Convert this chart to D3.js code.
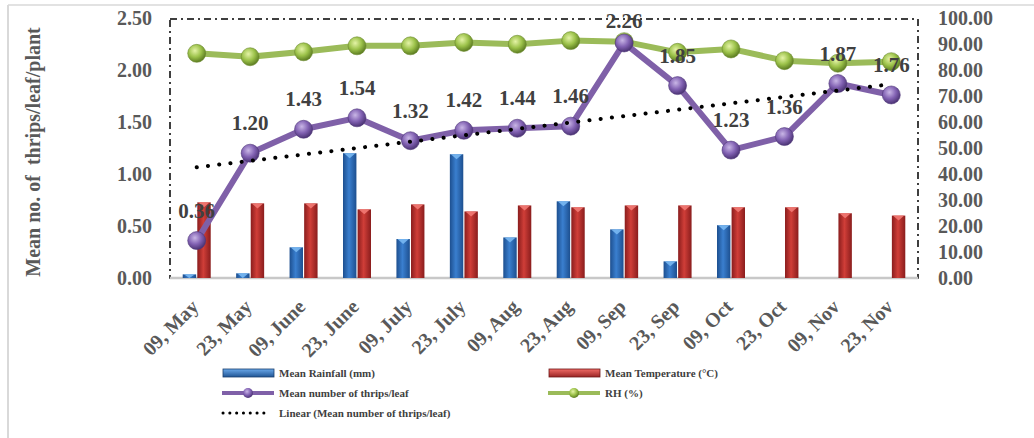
<!DOCTYPE html>
<html>
<head>
<meta charset="utf-8">
<script src="https://cdn.jsdelivr.net/npm/d3@7"></script>
<style>
  html, body { margin: 0; padding: 0; background: #fff; }
  svg { display: block; font-family: "Liberation Serif", "Times New Roman", serif; }
</style>
</head>
<body>
<svg id="chart" width="1034" height="438"></svg>
<script>
// Sampling dates
const categories = ["09, May", "23, May", "09, June", "23, June", "09, July", "23, July", "09, Aug",
                    "23, Aug", "09, Sep", "23, Sep", "09, Oct", "23, Oct", "09, Nov", "23, Nov"];
// Mean number of thrips per leaf (left axis)
const thrips = [0.36, 1.20, 1.43, 1.54, 1.32, 1.42, 1.44, 1.46, 2.26, 1.85, 1.23, 1.36, 1.87, 1.76];
// Weather (right axis)
const rainfall = [1.4, 1.8, 11.8, 48.0, 15.0, 47.6, 15.6, 29.5, 18.7, 6.4, 20.3, 0, 0, 0];
const temperature = [29.1, 28.7, 28.7, 26.4, 28.3, 25.6, 27.9, 27.2, 27.9, 27.9, 27.2, 27.2, 24.9, 24.0];
const humidity = [86.4, 85.1, 87.0, 89.3, 89.3, 90.6, 89.9, 91.3, 90.9, 86.8, 88.1, 83.6, 82.6, 83.2];
// Axis ticks
const leftTicks = [0, 0.5, 1.0, 1.5, 2.0, 2.5];
const rightTicks = [0, 10, 20, 30, 40, 50, 60, 70, 80, 90, 100];

const svg = d3.select("#chart");
const plot = { left: 170, right: 918, top: 18, bottom: 278 };

const x = d3.scaleBand().domain(categories).range([plot.left, plot.right]).padding(0);
const cx = d => x(d) + x.bandwidth() / 2;
const yL = d3.scaleLinear().domain([0, 2.5]).range([plot.bottom, plot.top]);
const yR = d3.scaleLinear().domain([0, 100]).range([plot.bottom, plot.top]);
const sub = d3.scaleBand().domain(["rain", "temp"]).range([-14, 14]).paddingInner(0.08);

// Gradients
const defs = svg.append("defs");
function cylinder(id, edge, mid) {
  const g = defs.append("linearGradient").attr("id", id).attr("x1", 0).attr("x2", 1).attr("y1", 0).attr("y2", 0);
  g.append("stop").attr("offset", "0%").attr("stop-color", edge);
  g.append("stop").attr("offset", "45%").attr("stop-color", mid);
  g.append("stop").attr("offset", "100%").attr("stop-color", edge);
}
cylinder("gBlue", "#1d4f8f", "#3a7fcf");
cylinder("gRed", "#8a1d1d", "#d03e38");
function swatch(id, top, bottom) {
  const g = defs.append("linearGradient").attr("id", id).attr("x1", 0).attr("x2", 0).attr("y1", 0).attr("y2", 1);
  g.append("stop").attr("offset", "0%").attr("stop-color", top);
  g.append("stop").attr("offset", "100%").attr("stop-color", bottom);
}
swatch("sBlue", "#6aa8ea", "#1f5494");
swatch("sRed", "#f06b66", "#9a2424");
function sphere(id, light, base, dark) {
  const g = defs.append("radialGradient").attr("id", id).attr("cx", "40%").attr("cy", "35%").attr("r", "65%");
  g.append("stop").attr("offset", "0%").attr("stop-color", light);
  g.append("stop").attr("offset", "55%").attr("stop-color", base);
  g.append("stop").attr("offset", "100%").attr("stop-color", dark);
}
sphere("ballPurple", "#c9b6e6", "#8262b3", "#4c3475");
sphere("ballGreen", "#e4f3a6", "#9cc24a", "#5d7d22");

// Outer frame lines
svg.append("line").attr("x1", 8).attr("x2", 1034).attr("y1", 5).attr("y2", 5)
  .attr("stroke", "#d9d9d9").attr("stroke-width", 1.5);
svg.append("line").attr("x1", 8).attr("x2", 8).attr("y1", 5).attr("y2", 438)
  .attr("stroke", "#d9d9d9").attr("stroke-width", 2);

// Plot-area border
svg.append("rect").attr("x", plot.left).attr("y", plot.top + 1)
  .attr("width", plot.right - plot.left).attr("height", plot.bottom - plot.top - 1)
  .attr("fill", "none").attr("stroke", "#000").attr("stroke-width", 1.5)
  .attr("stroke-dasharray", "7 4 2 4");

// Category axis line
svg.append("line").attr("x1", plot.left).attr("x2", plot.right).attr("y1", plot.bottom).attr("y2", plot.bottom)
  .attr("stroke", "#c8c8c8").attr("stroke-width", 2.5);

// Bars
function drawBars(values, key, fill, cap) {
  const g = svg.append("g");
  const w = sub.bandwidth();
  const data = values.map((v, i) => ({ c: categories[i], v }));
  g.selectAll("rect").data(data.filter(d => d.v > 0)).join("rect")
    .attr("x", d => cx(d.c) + sub(key)).attr("y", d => yR(d.v))
    .attr("width", w).attr("height", d => yR(0) - yR(d.v))
    .attr("fill", fill);
  g.selectAll("path").data(data.filter(d => d.v > 0)).join("path")
    .attr("d", d => {
      const x0 = cx(d.c) + sub(key), y0 = yR(d.v);
      const h = Math.min(5, yR(0) - y0);
      return `M${x0 + 1},${y0}L${x0 + w - 1},${y0}L${x0 + w / 2},${y0 + h}Z`;
    })
    .attr("fill", cap).attr("opacity", 0.9);
}
drawBars(rainfall, "rain", "url(#gBlue)", "#79b8f2");
drawBars(temperature, "temp", "url(#gRed)", "#f27a74");

// RH line
svg.append("path").datum(humidity)
  .attr("d", d3.line().x((d, i) => cx(categories[i])).y(d => yR(d)))
  .attr("fill", "none").attr("stroke", "#9bbb59").attr("stroke-width", 6).attr("stroke-linejoin", "round");
svg.append("g").selectAll("circle").data(humidity).join("circle")
  .attr("cx", (d, i) => cx(categories[i])).attr("cy", d => yR(d)).attr("r", 9)
  .attr("fill", "url(#ballGreen)").attr("stroke", "#6b8a2e").attr("stroke-width", 0.6);

// Thrips line
svg.append("path").datum(thrips)
  .attr("d", d3.line().x((d, i) => cx(categories[i])).y(d => yL(d)))
  .attr("fill", "none").attr("stroke", "#7f60a8").attr("stroke-width", 6).attr("stroke-linejoin", "round");
svg.append("g").selectAll("circle").data(thrips).join("circle")
  .attr("cx", (d, i) => cx(categories[i])).attr("cy", d => yL(d)).attr("r", 9)
  .attr("fill", "url(#ballPurple)").attr("stroke", "#4f3778").attr("stroke-width", 0.6);

// Linear trend of thrips (least squares)
const n = thrips.length;
const xs = thrips.map((d, i) => i + 1);
const mx = d3.mean(xs), my = d3.mean(thrips);
const slope = d3.sum(xs, (xv, i) => (xv - mx) * (thrips[i] - my)) / d3.sum(xs, xv => (xv - mx) ** 2);
const icpt = my - slope * mx;
const trend = [1, n].map(k => ({ c: categories[k - 1], v: icpt + slope * k }));
svg.append("path").datum(trend)
  .attr("d", d3.line().x(d => cx(d.c)).y(d => yL(d.v)))
  .attr("fill", "none").attr("stroke", "#000").attr("stroke-width", 4)
  .attr("stroke-linecap", "round").attr("stroke-dasharray", "0.1 11.2");

// Data labels (kept inside the plot area at the top)
svg.append("g").selectAll("text").data(thrips).join("text")
  .attr("x", (d, i) => cx(categories[i])).attr("y", d => Math.max(yL(d) - 23, 28))
  .attr("text-anchor", "middle").attr("font-size", 21).attr("font-weight", "bold")
  .attr("fill", "#404040").text(d => d.toFixed(2));

// Left axis
const axL = svg.append("g").attr("transform", `translate(${plot.left - 18},0)`)
  .call(d3.axisLeft(yL).tickValues(leftTicks).tickFormat(d3.format(".2f")).tickSize(0).tickPadding(0));
axL.select(".domain").remove();
axL.selectAll("text").attr("font-size", 20).attr("font-weight", "bold").attr("fill", "#595959")
  .attr("font-family", "Liberation Serif, serif");

// Right axis
const axR = svg.append("g").attr("transform", `translate(${plot.right + 20},0)`)
  .call(d3.axisRight(yR).tickValues(rightTicks).tickFormat(d3.format(".2f")).tickSize(0).tickPadding(0));
axR.select(".domain").remove();
axR.selectAll("text").attr("font-size", 20).attr("font-weight", "bold").attr("fill", "#595959")
  .attr("font-family", "Liberation Serif, serif");

// Category labels
const axB = svg.append("g").attr("transform", `translate(0,${plot.bottom})`)
  .call(d3.axisBottom(x).tickSize(0).tickPadding(0));
axB.select(".domain").remove();
axB.selectAll("text")
  .attr("font-size", 20).attr("font-weight", "bold").attr("fill", "#595959")
  .attr("font-family", "Liberation Serif, serif")
  .attr("text-anchor", "end").attr("dy", null).attr("y", 0)
  .attr("transform", "translate(3,30) rotate(-45)");

// Left axis title
svg.append("text").attr("transform", "translate(40,152) rotate(-90)")
  .attr("text-anchor", "middle").attr("font-size", 20).attr("font-weight", "bold").attr("fill", "#595959")
  .attr("xml:space", "preserve").text("Mean no. of  thrips/leaf/plant");

// Legend
const lg = svg.append("g").attr("font-size", 11).attr("font-weight", "bold").attr("fill", "#404040");
function legText(x0, y0, label) {
  lg.append("text").attr("x", x0).attr("y", y0 + 4).text(label);
}
lg.append("rect").attr("x", 223).attr("y", 369).attr("width", 51).attr("height", 8)
  .attr("fill", "url(#sBlue)").attr("stroke", "#1b3f6e").attr("stroke-width", 0.8);
legText(279, 373, "Mean Rainfall (mm)");
lg.append("rect").attr("x", 549).attr("y", 369).attr("width", 51).attr("height", 8)
  .attr("fill", "url(#sRed)").attr("stroke", "#6e1818").attr("stroke-width", 0.8);
legText(605, 373, "Mean Temperature (°C)");
lg.append("line").attr("x1", 222).attr("x2", 274).attr("y1", 393).attr("y2", 393)
  .attr("stroke", "#7f60a8").attr("stroke-width", 4);
lg.append("circle").attr("cx", 248).attr("cy", 393).attr("r", 5).attr("fill", "url(#ballPurple)");
legText(279, 393, "Mean number of thrips/leaf");
lg.append("line").attr("x1", 548).attr("x2", 600).attr("y1", 393).attr("y2", 393)
  .attr("stroke", "#9bbb59").attr("stroke-width", 4);
lg.append("circle").attr("cx", 574).attr("cy", 393).attr("r", 5).attr("fill", "url(#ballGreen)");
legText(605, 393, "RH (%)");
lg.append("line").attr("x1", 223).attr("x2", 270).attr("y1", 413).attr("y2", 413)
  .attr("stroke", "#000").attr("stroke-width", 3).attr("stroke-linecap", "round")
  .attr("stroke-dasharray", "0.1 6.7");
legText(279, 413, "Linear (Mean number of thrips/leaf)");
</script>
</body>
</html>
